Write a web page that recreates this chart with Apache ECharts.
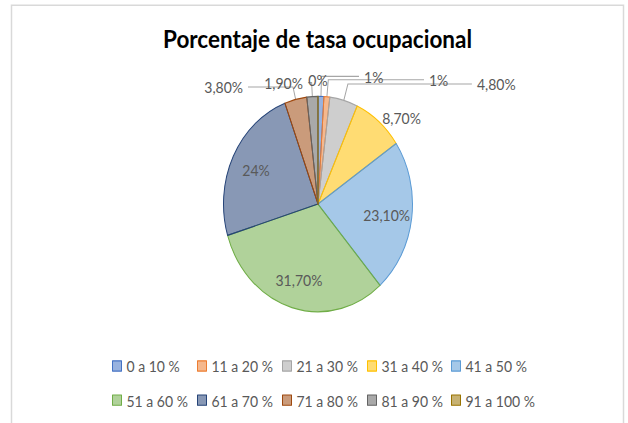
<!DOCTYPE html>
<html>
<head>
<meta charset="utf-8">
<script src="https://cdn.jsdelivr.net/npm/echarts@6/dist/echarts.min.js"></script>
<style>
  html, body { margin: 0; background: #ffffff; width: 628px; height: 423px; overflow: hidden; }
  #wrap { width: 628px; height: 423px; position: relative; }
  /* the reference picture is stretched vertically, so the chart is too */
  #chart { position: absolute; left: 0; top: 0; width: 628px; height: 371px; transform: scaleY(1.14); transform-origin: 0 0; }
</style>
</head>
<body>
<div id="wrap"><div id="chart"></div></div>
<script>
  // rangos de tasa ocupacional y su porcentaje
  const categories = ['0 a 10 %', '11 a 20 %', '21 a 30 %', '31 a 40 %', '41 a 50 %',
    '51 a 60 %', '61 a 70 %', '71 a 80 %', '81 a 90 %', '91 a 100 %']
  const values = [1, 1, 4.8, 8.7, 23.1, 31.7, 24, 3.8, 1.9, 0]
  const colors = ['#4472C4', '#ED7D31', '#A5A5A5', '#FFC000', '#5B9BD5',
    '#70AD47', '#264478', '#9E480E', '#636363', '#997300']

  const R = 94.5
  const insideIdx = [4, 5, 6]
  // leader line [length, length2] for the outside labels
  const leader = [[17.5, 37.5], [15, 95.7], [15, 124], [5, 0], null, null, null, [11.2, 45], [12.2, 3.7], [14.5, 0]]
  const legendCols = [112, 197, 282, 367, 451]

  const fmt = v => (Number.isInteger(v) ? String(v) : v.toFixed(2).replace('.', ',')) + '%'

  const fill = (hex, a) => {
    const n = parseInt(hex.slice(1), 16)
    return 'rgba(' + (n >> 16) + ',' + ((n >> 8) & 255) + ',' + (n & 255) + ',' + a + ')'
  }

  const total = values.reduce((s, v) => s + v, 0)
  const midAngle = i => {
    let before = 0
    for (let k = 0; k < i; k++) before += values[k]
    return (before + values[i] / 2) / total * Math.PI * 2
  }

  const seriesData = categories.map((name, i) => {
    const item = {
      name: name,
      value: values[i],
      itemStyle: { color: fill(colors[i], 0.55), borderColor: colors[i], borderWidth: 1 }
    }
    if (insideIdx.includes(i)) {
      item.label = { position: 'inside' }
    } else {
      item.label = { position: 'outside', distanceToLabelLine: (leader[i][1] === 0 ? 0 : 5) }
      item.labelLine = { show: leader[i][1] !== 0, length: leader[i][0], length2: leader[i][1] }
    }
    return item
  })

  // one small vertical legend per column so the columns line up like the original
  const legends = legendCols.map((x, j) => ({
    left: x,
    top: 314,
    orient: 'vertical',
    padding: 0,
    itemWidth: 9,
    itemHeight: 9,
    itemGap: 16,
    icon: 'rect',
    selectedMode: false,
    itemStyle: { borderWidth: 1 },
    textStyle: { color: '#595959', fontSize: 14, fontFamily: 'Lato' },
    data: [categories[j], categories[j + 5]]
  }))

  const chart = echarts.init(document.getElementById('chart'), null, { renderer: 'svg' })
  chart.setOption({
    animation: false,
    color: colors,
    title: {
      text: 'Porcentaje de tasa ocupacional',
      left: 317.5,
      textAlign: 'center',
      top: 22,
      padding: 0,
      textStyle: { color: '#000000', fontSize: 22.5, fontWeight: 'bold', fontFamily: 'Lato' }
    },
    legend: legends,
    graphic: [{
      type: 'rect',
      silent: true,
      z: -10,
      shape: { x: 11.5, y: 4.6, width: 612, height: 400 },
      style: { fill: 'none', stroke: '#d9d9d9', lineWidth: 1.5 }
    }],
    series: [{
      type: 'pie',
      center: [318, 179],
      radius: R,
      startAngle: 90,
      clockwise: true,
      avoidLabelOverlap: false,
      emphasis: { disabled: true },
      label: {
        color: '#595959',
        fontSize: 14,
        fontFamily: 'Lato',
        formatter: p => fmt(p.value)
      },
      labelLine: { smooth: false, lineStyle: { color: '#a6a6a6', width: 1 } },
      labelLayout: function (p) {
        const i = p.dataIndex
        if (insideIdx.includes(i)) {
          const a = midAngle(i)
          return { dx: R * 0.2 * Math.sin(a), dy: -R * 0.2 * Math.cos(a) }
        }
        if (values[i] === 0) return { align: 'center' }
        return {}
      },
      data: seriesData
    }]
  })
</script>
</body>
</html>
